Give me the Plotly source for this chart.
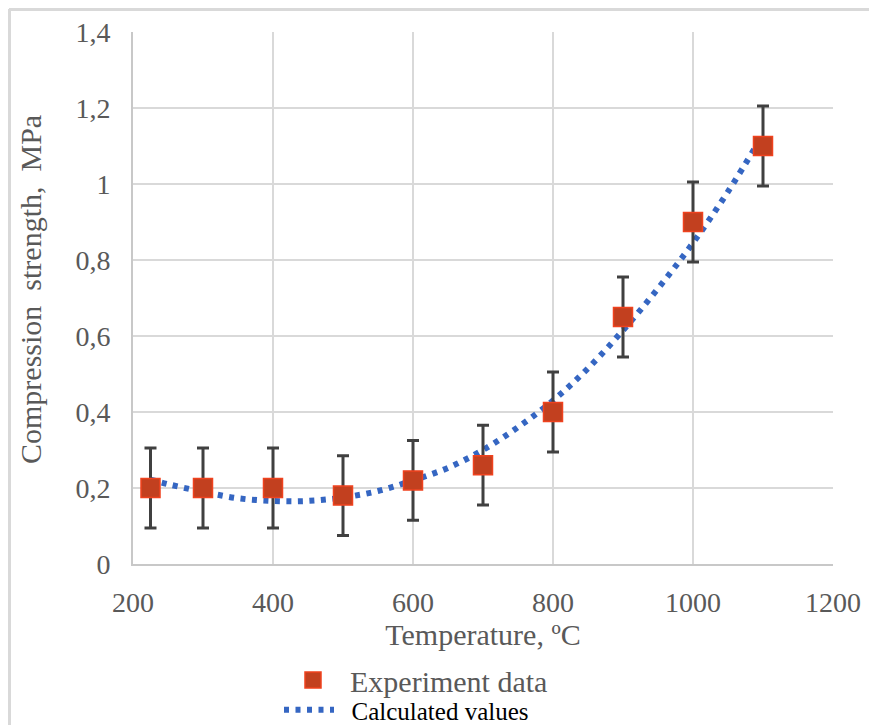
import plotly.graph_objects as go

# Experimental data
temp_exp = [225, 300, 400, 500, 600, 700, 800, 900, 1000, 1100]
strength_exp = [0.20, 0.20, 0.20, 0.18, 0.22, 0.26, 0.40, 0.65, 0.90, 1.10]
error_exp = [0.105] * 10

# Calculated curve
temp_calc = [225, 250, 300, 350, 400, 450, 500, 550, 600, 650, 700, 750, 800, 850, 900, 950, 1000, 1050, 1100]
strength_calc = [0.222, 0.21, 0.19, 0.173, 0.166, 0.166, 0.175, 0.192, 0.22, 0.253, 0.30, 0.36, 0.43,
                 0.515, 0.615, 0.725, 0.845, 0.98, 1.13]

x_ticks = [200, 400, 600, 800, 1000, 1200]
y_ticks = [0, 0.2, 0.4, 0.6, 0.8, 1.0, 1.2, 1.4]

FONT = "Liberation Serif, Times New Roman, serif"
GRID = "#d9d9d9"

fig = go.Figure()

fig.add_trace(go.Scatter(
    x=temp_calc, y=strength_calc, mode="lines", name="\u00a0\u00a0Calculated values",
    line=dict(color="#3566c2", width=6, dash="5px,6.5px", shape="spline"),
    legend="legend2",
))

fig.add_trace(go.Scatter(
    x=temp_exp, y=strength_exp, mode="markers", name="Experiment data",
    marker=dict(symbol="square", size=19, color="#c2401f",
                line=dict(color="#f0421e", width=1.5)),
    error_y=dict(type="data", array=error_exp, visible=True,
                 color="#404040", thickness=3, width=6),
    legend="legend",
))

W, H = 877, 725
OFF = 8  # page body margin offset
# target plot area in window pixels
PL, PR, PT, PB = 133, 833, 32, 564
L, T = PL - OFF, PT - OFF
R = W - (PR - OFF)
B = H - (PB - OFF)
pw, ph = PR - PL, PB - PT

def px_x(p):  # window pixel -> paper x
    return (p - PL) / pw

def px_y(p):  # window pixel -> paper y
    return (PB - p) / ph

fig.update_layout(
    width=W, height=H,
    margin=dict(l=L, r=R, t=T, b=B, autoexpand=False),
    paper_bgcolor="white", plot_bgcolor="white",
    separators=", ",
    font=dict(family=FONT, size=28, color="#595959"),
    showlegend=True,
    xaxis=dict(
        range=[200, 1200], tickvals=x_ticks, automargin=False,
        showgrid=True, gridcolor=GRID, gridwidth=2,
        showline=True, linecolor="#c8c8c8", linewidth=2,
        zeroline=False, ticks="", ticklabelstandoff=12,
        tickfont=dict(family=FONT, size=28, color="#595959"),
        title=dict(text="Temperature, ºC", standoff=6,
                   font=dict(family=FONT, size=30, color="#595959")),
    ),
    yaxis=dict(
        range=[0, 1.4], tickvals=y_ticks, automargin=False,
        showgrid=True, gridcolor=GRID, gridwidth=2,
        showline=True, linecolor="#c8c8c8", linewidth=2,
        zeroline=False, ticks="", ticklabelstandoff=15,
        tickfont=dict(family=FONT, size=28, color="#595959"),
    ),
    legend=dict(
        x=px_x(276), y=px_y(654), xanchor="left", yanchor="top",
        bgcolor="rgba(0,0,0,0)", itemwidth=64,
        font=dict(family=FONT, size=30, color="#595959"),
    ),
    legend2=dict(
        x=px_x(279), y=px_y(687), xanchor="left", yanchor="top",
        bgcolor="rgba(0,0,0,0)", itemwidth=50,
        font=dict(family=FONT, size=25, color="#000000"),
    ),
    annotations=[dict(
        text="Compression  strength,  MPa", textangle=-90,
        xref="paper", yref="paper", x=px_x(30), y=px_y(290),
        xanchor="center", yanchor="middle", showarrow=False,
        font=dict(family=FONT, size=30, color="#595959"),
    )],
    shapes=[
        dict(type="line", xref="paper", yref="paper", x0=px_x(9), x1=px_x(W + 10), y0=px_y(9.5), y1=px_y(9.5),
             line=dict(color="#d9d9d9", width=3)),
        dict(type="line", xref="paper", yref="paper", x0=px_x(9.5), x1=px_x(9.5), y0=px_y(9), y1=px_y(H + 10),
             line=dict(color="#d9d9d9", width=3)),
    ],
)

fig.write_html("out.html")
